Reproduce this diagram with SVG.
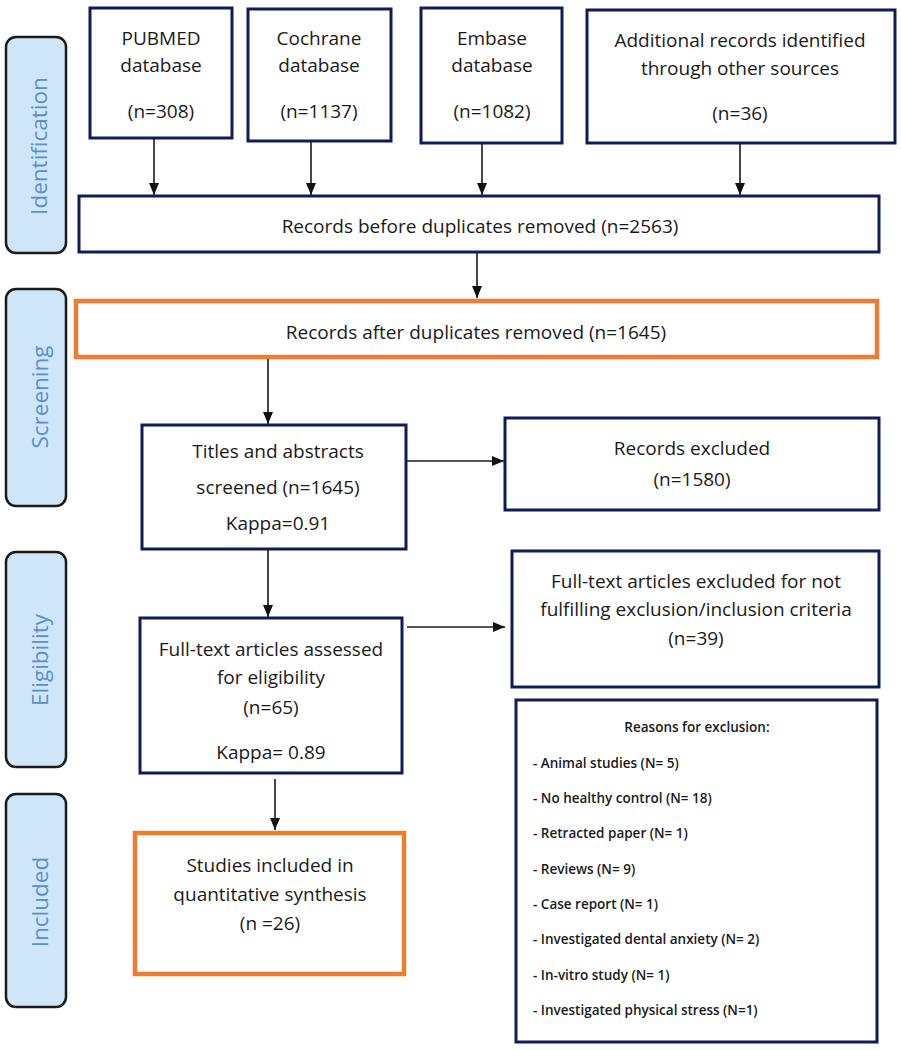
<svg xmlns="http://www.w3.org/2000/svg" width="901" height="1050" viewBox="0 0 901 1050">
<defs>
<style>
.side{fill:#cfe6f8;stroke:#1a1a1a;stroke-width:2.5}
.sl{font-family:"Open Sans","Liberation Sans",sans-serif;font-size:22.5px;fill:#5b8fd0;text-anchor:middle;dominant-baseline:central}
.box{fill:#fff;stroke:#0f1c5a;stroke-width:3}
.obox{fill:#fff;stroke:#ed7d31;stroke-width:4.5}
.t{font-family:"Open Sans","Liberation Sans",sans-serif;font-size:19px;fill:#1a1a1a;text-anchor:middle;dominant-baseline:central}
.s{font-family:"Open Sans","Liberation Sans",sans-serif;font-size:13.5px;font-weight:600;fill:#1a1a1a;dominant-baseline:central}
.c{stroke:#1a1a1a;stroke-width:1.6;fill:none;marker-end:url(#ah)}
</style>
<marker id="ah" markerUnits="userSpaceOnUse" markerWidth="12" markerHeight="12" viewBox="0 0 12 12" refX="12" refY="6" orient="auto">
<path d="M0,1 L12,6 L0,11 Z" fill="#111"/>
</marker>
</defs>
<rect width="901" height="1050" fill="#fff"/>

<g id="stage-identification"><rect class="side" x="6" y="37" width="60" height="216" rx="10"/><text class="sl" transform="translate(38,146) rotate(-90)">Identification</text></g>
<g id="stage-screening"><rect class="side" x="6" y="289" width="60" height="217" rx="10"/><text class="sl" transform="translate(39,397) rotate(-90)">Screening</text></g>
<g id="stage-eligibility"><rect class="side" x="6" y="552" width="60" height="215" rx="10"/><text class="sl" transform="translate(39,660) rotate(-90)">Eligibility</text></g>
<g id="stage-included"><rect class="side" x="6" y="794" width="60" height="213" rx="10"/><text class="sl" transform="translate(39,902) rotate(-90)">Included</text></g>

<g id="pubmed"><rect class="box" x="90" y="8" width="142" height="130"/>
<text class="t" x="161" y="38">PUBMED</text><text class="t" x="161" y="65">database</text><text class="t" x="161" y="111">(n=308)</text></g>
<g id="cochrane"><rect class="box" x="248" y="9" width="143" height="132"/>
<text class="t" x="319" y="38">Cochrane</text><text class="t" x="319" y="65">database</text><text class="t" x="319" y="111">(n=1137)</text></g>
<g id="embase"><rect class="box" x="421" y="8" width="141" height="135"/>
<text class="t" x="492" y="38">Embase</text><text class="t" x="492" y="65">database</text><text class="t" x="492" y="111">(n=1082)</text></g>
<g id="additional"><rect class="box" x="587" y="10" width="308" height="133"/>
<text class="t" x="740" y="40">Additional records identified</text><text class="t" x="740" y="68">through other sources</text><text class="t" x="740" y="113">(n=36)</text></g>

<g id="records-before"><rect class="box" x="79" y="196" width="800" height="56"/>
<text class="t" x="480" y="226">Records before duplicates removed (n=2563)</text></g>
<g id="records-after"><rect class="obox" x="76" y="301" width="801" height="56"/>
<text class="t" x="476" y="332">Records after duplicates removed (n=1645)</text></g>

<g id="titles"><rect class="box" x="142" y="425" width="264" height="124"/>
<text class="t" x="278" y="451">Titles and abstracts</text><text class="t" x="278" y="487">screened (n=1645)</text><text class="t" x="278" y="523">Kappa=0.91</text></g>
<g id="records-excluded"><rect class="box" x="505" y="418" width="374" height="92"/>
<text class="t" x="692" y="448">Records excluded</text><text class="t" x="692" y="479">(n=1580)</text></g>

<g id="fulltext"><rect class="box" x="140" y="618" width="262" height="155"/>
<text class="t" x="271" y="649">Full-text articles assessed</text><text class="t" x="271" y="677">for eligibility</text><text class="t" x="271" y="707">(n=65)</text><text class="t" x="271" y="752">Kappa= 0.89</text></g>
<g id="fulltext-excluded"><rect class="box" x="512" y="551" width="367" height="136"/>
<text class="t" x="696" y="581">Full-text articles excluded for not</text><text class="t" x="696" y="609">fulfilling exclusion/inclusion criteria</text><text class="t" x="696" y="638">(n=39)</text></g>

<g id="reasons"><rect class="box" x="516" y="700" width="361" height="342"/>
<text class="s" x="697" y="727" text-anchor="middle">Reasons for exclusion:</text>
<text class="s" x="533" y="763">- Animal studies (N= 5)</text>
<text class="s" x="533" y="798">- No healthy control (N= 18)</text>
<text class="s" x="533" y="833">- Retracted paper (N= 1)</text>
<text class="s" x="533" y="869">- Reviews (N= 9)</text>
<text class="s" x="533" y="904">- Case report (N= 1)</text>
<text class="s" x="533" y="939">- Investigated dental anxiety (N= 2)</text>
<text class="s" x="533" y="975">- In-vitro study (N= 1)</text>
<text class="s" x="533" y="1010">- Investigated physical stress (N=1)</text></g>

<g id="studies-included"><rect class="obox" x="135" y="833" width="269" height="141"/>
<text class="t" x="270" y="865">Studies included in</text><text class="t" x="270" y="894">quantitative synthesis</text><text class="t" x="270" y="923">(n =26)</text></g>

<g id="connectors">
<line class="c" x1="154" y1="139" x2="154" y2="195"/>
<line class="c" x1="311" y1="142" x2="311" y2="195"/>
<line class="c" x1="482" y1="144" x2="482" y2="195"/>
<line class="c" x1="740" y1="144" x2="740" y2="195"/>
<line class="c" x1="477" y1="253" x2="477" y2="298"/>
<line class="c" x1="268" y1="359" x2="268" y2="424"/>
<line class="c" x1="268" y1="550" x2="268" y2="617"/>
<line class="c" x1="407" y1="461" x2="504" y2="461"/>
<line class="c" x1="407" y1="627" x2="505" y2="627"/>
<line class="c" x1="275" y1="779" x2="275" y2="830"/>
</g>
</svg>
